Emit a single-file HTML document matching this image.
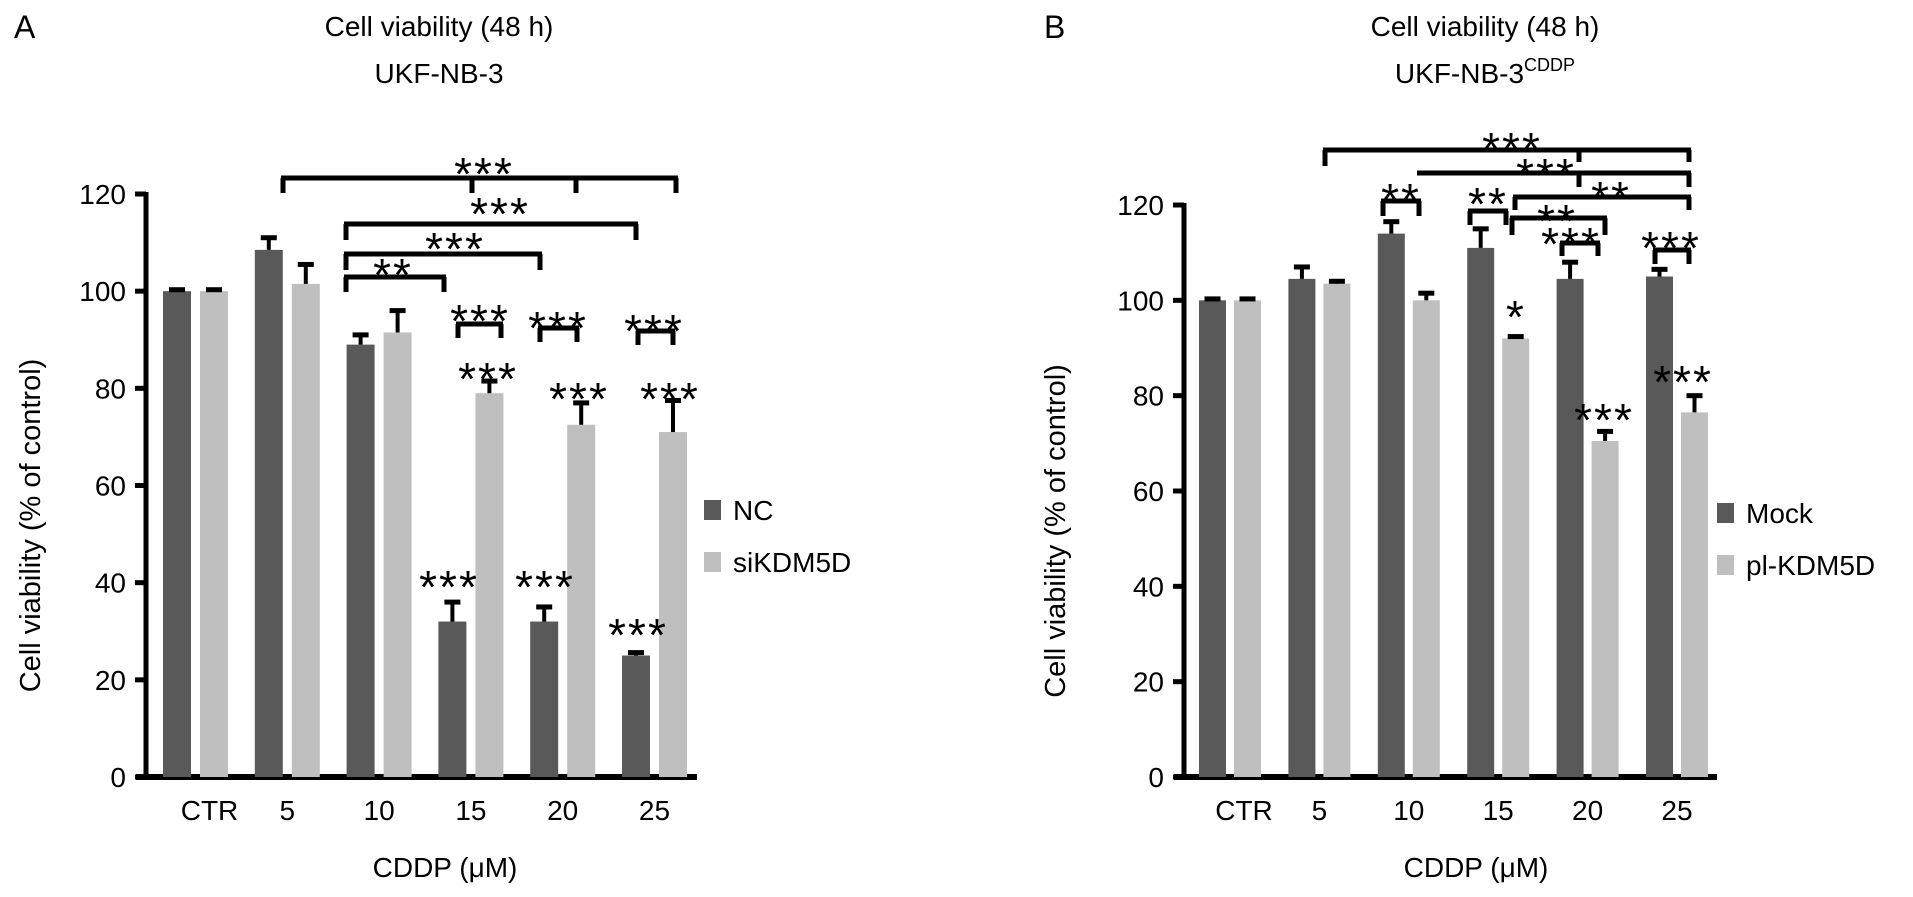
<!DOCTYPE html>
<html><head><meta charset="utf-8"><style>
html,body{margin:0;padding:0;background:#fff;}
svg{display:block;font-family:"Liberation Sans",Arial,sans-serif;}
</style></head><body>
<svg id="chart" width="1913" height="897" viewBox="0 0 1913 897" xmlns="http://www.w3.org/2000/svg">
<text x="14" y="38" font-size="32">A</text>
<text x="1044" y="38" font-size="32">B</text>
<text x="439" y="36" font-size="28" text-anchor="middle">Cell viability (48 h)</text>
<text x="439" y="83" font-size="28" text-anchor="middle">UKF-NB-3</text>
<text x="1485" y="36" font-size="28" text-anchor="middle">Cell viability (48 h)</text>
<text x="1485" y="83" font-size="28" text-anchor="middle">UKF-NB-3<tspan font-size="18" dy="-12">CDDP</tspan></text>
<g id="pa"></g><g id="pb"></g>
</svg>
<script>
const categories = ["CTR","5","10","15","20","25"];
const yTicks = [0,20,40,60,80,100,120];
const aSeries1 = [100,108.5,89,32,32,25];
const aErr1 = [0.3,2.5,2,4,3,0.6];
const aSeries2 = [100,101.5,91.5,79,72.5,71];
const aErr2 = [0.3,4,4.5,2.5,4.5,6.5];
const bSeries1 = [100,104.5,114,111,104.5,105];
const bErr1 = [0.3,2.5,2.5,4,3.5,1.5];
const bSeries2 = [100,103.5,100,92,70.5,76.5];
const bErr2 = [0.3,0.5,1.5,0.4,2,3.5];
const aLegend = ["NC","siKDM5D"];
const bLegend = ["Mock","pl-KDM5D"];
const NS="http://www.w3.org/2000/svg";
function mk(parent,tag,attrs,text){const e=document.createElementNS(NS,tag);for(const k in attrs)e.setAttribute(k,attrs[k]);if(text!==undefined)e.textContent=text;parent.appendChild(e);return e;}

function panel(gid,P,s1,e1,s2,e2,leg,brackets,stars){
  const g=document.getElementById(gid);
  const y=v=>P.y0-(v/120)*(P.y0-P.y120);
  const bx=i=>P.x0+i*P.step;
  let ax=mk(g,'line',{x1:P.ax,y1:P.y120-2,x2:P.ax,y2:P.y0+3,stroke:'#000','stroke-width':5});
  
  
  let xx=mk(g,'line',{x1:P.ax-10,y1:P.y0,x2:P.xend,y2:P.y0,stroke:'#000','stroke-width':6});
  
  
  yTicks.forEach(t=>{
    let tk=mk(g,'line',{x1:P.ax-11,y1:y(t),x2:P.ax,y2:y(t),stroke:'#000','stroke-width':5});
    
    
    let tl=mk(g,'text',{x:P.ax-20,y:y(t)+10,'font-size':28,'text-anchor':'end'},String(t));
    
    
  });
  categories.forEach((c,i)=>{
    const cx=bx(i)+(P.off+P.w)/2+(i===0?14:0);
    let t=mk(g,'text',{x:cx,y:P.y0+43,'font-size':28,'text-anchor':'middle'},c);
    
    
  });
  [[s1,e1,'#595959',0],[s2,e2,'#bfbfbf',P.off]].forEach(([s,e,col,o],si)=>{
    s.forEach((v,i)=>{
      const x=bx(i)+o;
      let r=mk(g,'rect',{x:x,y:y(v),width:P.w,height:P.y0-y(v),fill:col});
      
      
      const top=y(v+e[i]);
      let el=mk(g,'line',{x1:x+P.w/2,y1:y(v),x2:x+P.w/2,y2:top,stroke:'#000','stroke-width':4});
      
      
      let cap=mk(g,'rect',{x:x+P.w/2-8,y:top-2.5,width:16,height:5,fill:'#000'});
      
      
    });
  });
  leg.forEach((l,i)=>{
    const ly=P.legY+i*52;
    let sw=mk(g,'rect',{x:P.legX,y:ly,width:17,height:20,fill:i?'#bfbfbf':'#595959'});
    
    
    let lt=mk(g,'text',{x:P.legX+29,y:ly+20,'font-size':28},l);
    
    
  });
  let yl=mk(g,'text',{x:0,y:0,'font-size':29,'text-anchor':'middle',transform:`translate(${P.ylx},${(P.y0+P.y120)/2+40}) rotate(-90)`},'Cell viability (% of control)');
  
  
  let xl=mk(g,'text',{x:P.xlx,y:877,'font-size':28,'text-anchor':'middle'},'CDDP (\u03bcM)');
  
  
  brackets.forEach(b=>{
    const [x1,x2,by,drops]=b;
    let h=mk(g,'line',{x1:x1-2,y1:by,x2:x2+2,y2:by,stroke:'#000','stroke-width':5});
    
    
    drops.forEach(d=>{
      let v=mk(g,'line',{x1:d[0],y1:by,x2:d[0],y2:d[1],stroke:'#000','stroke-width':5});
      
      
    });
  });
  stars.forEach(s=>{
    let t=mk(g,'text',{x:s[0],y:s[1]+25,'font-size':46,'text-anchor':'middle','letter-spacing':'2'},s[2]);
    
    
  });
}

panel('pa',{ax:146,xend:697,y0:777,y120:194,x0:163,step:91.8,w:28,off:37,legX:704,legY:500,ylx:40,xlx:445},
  aSeries1,aErr1,aSeries2,aErr2,aLegend,
  [[283,676,178,[[283,193],[472,193],[576,193],[676,193]]],
   [346,636,224,[[346,240],[636,240]]],
   [346,540,254,[[346,270],[540,270]]],
   [346,444,277,[[346,292],[444,292]]],
   [458,501,324,[[458,338],[501,338]]],
   [540,577,328,[[540,342],[577,342]]],
   [638,673,331,[[638,345],[673,345]]]],
  [[484,165,'***'],[500,205,'***'],[455,240,'***'],[393,266,'**'],
   [480,312,'***'],[558,319,'***'],[654,322,'***'],
   [488,370,'***'],[579,390,'***'],[670,390,'***'],
   [449,578,'***'],[545,578,'***'],[638,626,'***']]);

panel('pb',{ax:1184,xend:1717,y0:777,y120:205,x0:1199,step:89.4,w:27,off:35,legX:1717,legY:503,ylx:1065,xlx:1476},
  bSeries1,bErr1,bSeries2,bErr2,bLegend,
  [[1325,1689,150,[[1325,166],[1579,162],[1689,162]]],
   [1419,1689,173,[[1579,187],[1689,187]]],
   [1383,1419,201,[[1383,216],[1419,216]]],
   [1515,1689,197,[[1515,210],[1689,210]]],
   [1470,1506,211,[[1470,225],[1506,225]]],
   [1512,1605,218,[[1512,235],[1605,235]]],
   [1562,1598,243,[[1562,256],[1598,256]]],
   [1655,1689,250,[[1655,264],[1689,264]]]],
  [[1512,140,'***'],[1546,166,'***'],[1401,191,'**'],[1488,195,'**'],[1611,189,'**'],
   [1557,212,'**'],[1571,235,'***'],[1671,239,'***'],
   [1516,308,'*'],[1604,411,'***'],[1683,373,'***']]);
</script>
</body></html>
